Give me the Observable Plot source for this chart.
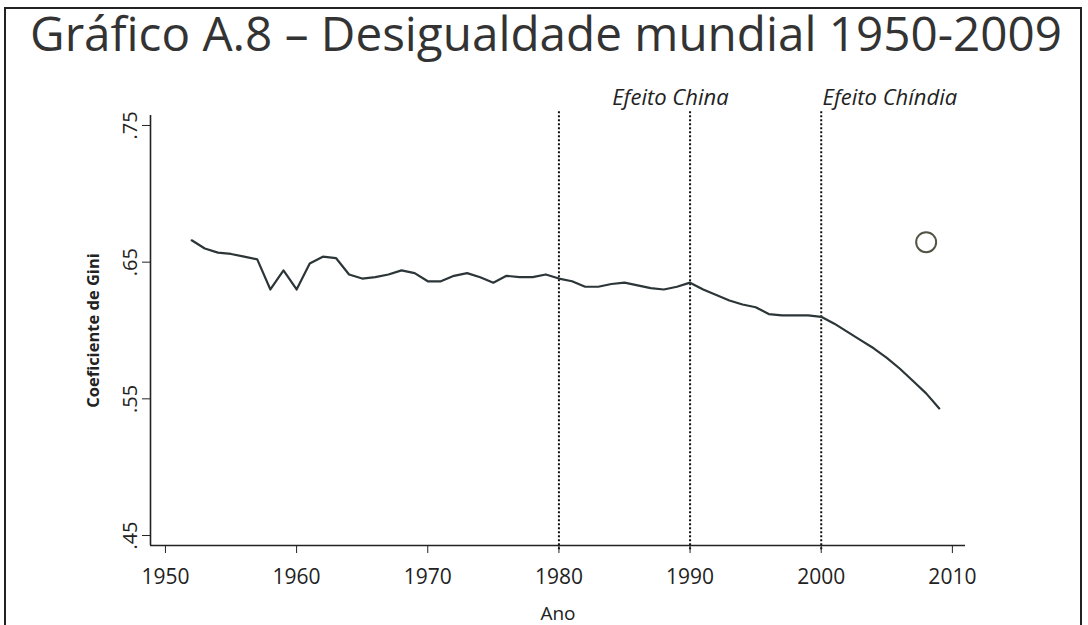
<!DOCTYPE html>
<html><head><meta charset="utf-8">
<script src="https://cdn.jsdelivr.net/npm/d3@7"></script>
<script src="https://cdn.jsdelivr.net/npm/@observablehq/plot@0.6"></script>
<style>
html,body{margin:0;padding:0;background:#fff;}
body{width:1088px;height:625px;position:relative;overflow:hidden;font-family:"Open Sans",sans-serif;}
#frame{position:absolute;left:4px;top:7px;width:1078px;height:640px;border:2px solid #222;border-bottom:none;box-sizing:border-box;}
#title{position:absolute;left:30px;top:9px;font-size:48px;line-height:1;color:#333;white-space:nowrap;transform-origin:left top;display:inline-block;}
#chart{position:absolute;left:0;top:70px;}
</style></head>
<body>
<div id="frame"></div>
<div id="title">Gráfico A.8 – Desigualdade mundial 1950-2009</div>
<div id="chart"></div>
<script>
const years = [1952,1953,1954,1955,1956,1957,1958,1959,1960,1961,1962,1963,1964,1965,1966,1967,1968,1969,1970,1971,1972,1973,1974,1975,1976,1977,1978,1979,1980,1981,1982,1983,1984,1985,1986,1987,1988,1989,1990,1991,1992,1993,1994,1995,1996,1997,1998,1999,2000,2001,2002,2003,2004,2005,2006,2007,2008,2009];
const gini = [0.666,0.660,0.657,0.656,0.654,0.652,0.630,0.644,0.630,0.649,0.654,0.653,0.641,0.638,0.639,0.641,0.644,0.642,0.636,0.636,0.640,0.642,0.639,0.635,0.640,0.639,0.639,0.641,0.638,0.636,0.632,0.632,0.634,0.635,0.633,0.631,0.630,0.632,0.635,0.630,0.626,0.622,0.619,0.617,0.612,0.611,0.611,0.611,0.610,0.605,0.599,0.593,0.587,0.580,0.572,0.563,0.554,0.543];
const xTicks = [1950,1960,1970,1980,1990,2000,2010];
const yTicks = [0.45,0.55,0.65,0.75];
const markerYears = [1980,1990,2000];
const annotationChina = ["Efeito China"];
const annotationChindia = ["Efeito Chíndia"];
const outlierYears = [2008];
const outlierValues = [0.6646];
const xLabel = "Ano";
const yLabel = "Coeficiente de Gini";

const data = years.map((y,i)=>({year:y, gini:gini[i]}));
const outlier = outlierYears.map((y,i)=>({year:y, gini:outlierValues[i]}));
const xDom = [1948.86, 2011.0];
const yDom = [0.4427, 0.7573];

const chart = Plot.plot({
  width: 1088, height: 555,
  marginLeft: 150, marginRight: 123, marginTop: 45, marginBottom: 80,
  style: {fontFamily: '"Open Sans", sans-serif', color: "#222", background: "transparent"},
  x: {domain: xDom},
  y: {domain: yDom},
  marks: [
    Plot.ruleX([xDom[0]], {y1: yDom[0], y2: yDom[1], stroke: "#222", strokeWidth: 1.6}),
    Plot.ruleY([yDom[0]], {x1: xDom[0], x2: xDom[1], stroke: "#222", strokeWidth: 1.6}),
    Plot.ruleX(markerYears, {x: d=>d, y1: 0.4395, y2: 0.7609, stroke: "#111", strokeWidth: 2, strokeDasharray: "2,2"}),
    Plot.line(data, {x: "year", y: "gini", stroke: "#2c3538", strokeWidth: 2.2}),
    Plot.dot(outlier, {x: "year", y: "gini", r: 10, stroke: "#4f5542", strokeWidth: 2, fill: "none"}),
    Plot.axisX({ticks: xTicks, tickSize: 8, tickPadding: 16, fontSize: 21, label: null, tickFormat: d=>String(d)}),
    Plot.axisY({ticks: yTicks, tickSize: 8, tickRotate: -90, tickPadding: 6, fontSize: 20, label: null, tickFormat: d=>String(d).replace("0.", ".")}),
    Plot.text([xLabel], {frameAnchor: "bottom", dy: 74, fontSize: 19, fill: "#222"}),
    Plot.text([yLabel], {x: xDom[0], y: (yDom[0] + yDom[1]) / 2, dx: -57, rotate: -90, fontSize: 16.5, fontWeight: "bold", fill: "#222"}),
    Plot.text(annotationChina, {x: 1988.5, y: 0.7705, text: d=>d, fontSize: 22, fontStyle: "italic", fill: "#222", textAnchor: "middle"}),
    Plot.text(annotationChindia, {x: 2000.1, y: 0.7705, text: d=>d, fontSize: 22, fontStyle: "italic", fill: "#222", textAnchor: "start"})
  ]
});
document.getElementById("chart").appendChild(chart);
const t = document.getElementById("title");
const w = t.getBoundingClientRect().width;
t.style.transform = `scaleX(${1032 / w})`;
</script>
</body></html>
